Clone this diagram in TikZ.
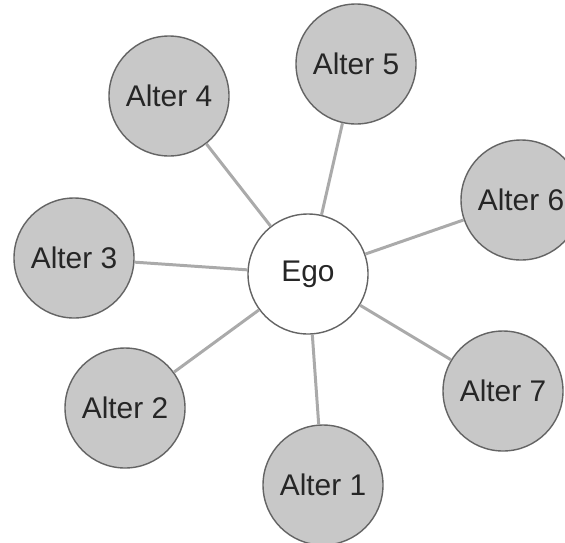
\documentclass[tikz,border=0pt]{standalone}
\usepackage{fontspec}
\setmainfont{Liberation Sans}
\usepackage{tikz}

\definecolor{altergray}{RGB}{200,200,200}
\definecolor{rimgray}{RGB}{100,100,100}
\definecolor{tiegray}{RGB}{170,170,170}

\begin{document}
\begin{tikzpicture}[every node/.style={font=\fontsize{17}{20}\selectfont, text=black!85},
            alter/.style={circle, draw=rimgray, thick, fill=altergray, minimum size=2.4cm, inner sep=0pt},
            ego/.style={circle, draw=rimgray, thick, fill=white, minimum size=2.4cm, inner sep=0pt},
            tie/.style={draw=tiegray, line width=1.7pt}]
            \clip (0,0) rectangle (11.3,10.84);
            \useasboundingbox (0,0) rectangle (11.3,10.84);

            \node[ego] (ego) at (6.16,5.36) {Ego};
            \node[alter] (a1) at (6.46,1.14) {Alter 1};
            \node[alter] (a2) at (2.50,2.68) {Alter 2};
            \node[alter] (a3) at (1.48,5.68) {Alter 3};
            \node[alter] (a4) at (3.38,8.92) {Alter 4};
            \node[alter] (a5) at (7.12,9.56) {Alter 5};
            \node[alter] (a6) at (10.42,6.84) {Alter 6};
            \node[alter] (a7) at (10.06,3.02) {Alter 7};

            \foreach \a in {a1,a2,a3,a4,a5,a6,a7}
                \draw[tie] (ego) -- (\a);
        \end{tikzpicture}
\end{document}
